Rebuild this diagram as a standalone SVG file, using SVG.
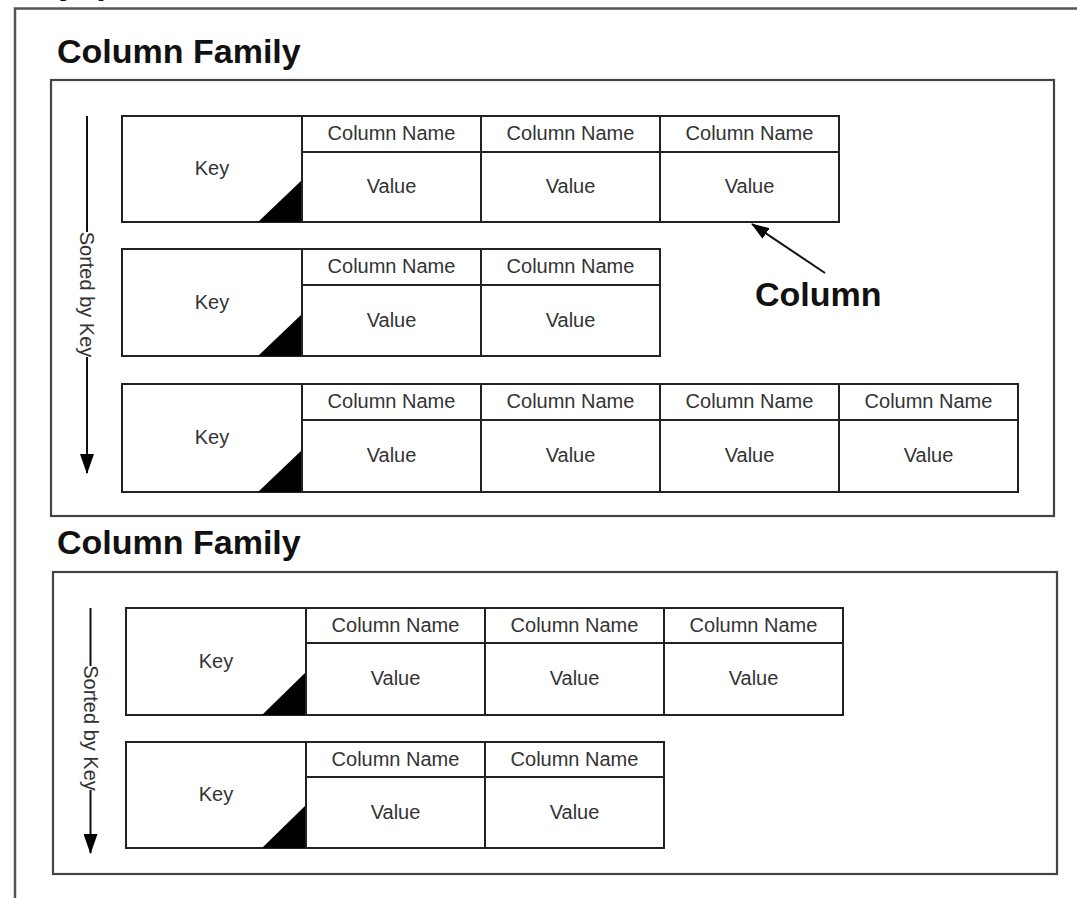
<svg xmlns="http://www.w3.org/2000/svg" width="1077" height="898" viewBox="0 0 1077 898">
  <style>
    .frame { fill: none; stroke: #555; stroke-width: 2.5; }
    .cf { fill: #fff; stroke: #444; stroke-width: 2.2; }
    .cell { fill: #fff; stroke: #222; stroke-width: 2; }
    .tri { fill: #000; stroke: none; }
    .lbl { font-family: "Liberation Sans", Arial, sans-serif; font-size: 20px; fill: #333; text-anchor: middle; }
    .head { font-family: "Liberation Sans", Arial, sans-serif; font-size: 34px; font-weight: bold; fill: #111; }
    .wire { stroke: #111; stroke-width: 2; fill: none; }
  </style>
  <defs>
    <marker id="head" viewBox="0 0 20 14" refX="19" refY="7" markerUnits="userSpaceOnUse" markerWidth="20" markerHeight="14" orient="auto">
      <path d="M0,0 L20,7 L0,14 z" fill="#000"/>
    </marker>
    <marker id="ptr" viewBox="0 0 18 13" refX="17" refY="6.5" markerUnits="userSpaceOnUse" markerWidth="18" markerHeight="13" orient="auto">
      <path d="M0,0 L18,6.5 L0,13 z" fill="#000"/>
    </marker>
  </defs>

  <rect width="1077" height="898" fill="#fff"/>

  <!-- keyspace frame (runs off the page) -->
  <g id="keyspace">
    <text class="head" x="15" y="-6" font-size="36">Keyspace</text>
    <path class="frame" d="M15,905 L15,8.5 L1085,8.5"/>
  </g>

  <!-- first column family -->
  <g id="cf1">
    <text class="head" x="57" y="63">Column Family</text>
    <rect class="cf" x="51" y="80" width="1003" height="436"/>
  </g>

  <g id="cf1-row1">
    <rect class="cell" x="122" y="116" width="180" height="106"/>
    <path class="tri" d="M258,222 L302,222 L302,180 z"/>
    <text class="lbl" x="212" y="175">Key</text>
    <rect class="cell" x="302" y="116" width="179" height="36"/>
    <rect class="cell" x="302" y="152" width="179" height="70"/>
    <rect class="cell" x="481" y="116" width="179" height="36"/>
    <rect class="cell" x="481" y="152" width="179" height="70"/>
    <rect class="cell" x="660" y="116" width="179" height="36"/>
    <rect class="cell" x="660" y="152" width="179" height="70"/>
    <text class="lbl" x="391.5" y="140">Column Name</text>
    <text class="lbl" x="570.5" y="140">Column Name</text>
    <text class="lbl" x="749.5" y="140">Column Name</text>
    <text class="lbl" x="391.5" y="193">Value</text>
    <text class="lbl" x="570.5" y="193">Value</text>
    <text class="lbl" x="749.5" y="193">Value</text>
  </g>

  <g id="cf1-row2">
    <rect class="cell" x="122" y="249" width="180" height="107"/>
    <path class="tri" d="M258,356 L302,356 L302,314 z"/>
    <text class="lbl" x="212" y="309">Key</text>
    <rect class="cell" x="302" y="249" width="179" height="36"/>
    <rect class="cell" x="302" y="285" width="179" height="71"/>
    <rect class="cell" x="481" y="249" width="179" height="36"/>
    <rect class="cell" x="481" y="285" width="179" height="71"/>
    <text class="lbl" x="391.5" y="273">Column Name</text>
    <text class="lbl" x="570.5" y="273">Column Name</text>
    <text class="lbl" x="391.5" y="327">Value</text>
    <text class="lbl" x="570.5" y="327">Value</text>
  </g>

  <g id="cf1-row3">
    <rect class="cell" x="122" y="384" width="180" height="108"/>
    <path class="tri" d="M258,492 L302,492 L302,450 z"/>
    <text class="lbl" x="212" y="444">Key</text>
    <rect class="cell" x="302" y="384" width="179" height="36"/>
    <rect class="cell" x="302" y="420" width="179" height="72"/>
    <rect class="cell" x="481" y="384" width="179" height="36"/>
    <rect class="cell" x="481" y="420" width="179" height="72"/>
    <rect class="cell" x="660" y="384" width="179" height="36"/>
    <rect class="cell" x="660" y="420" width="179" height="72"/>
    <rect class="cell" x="839" y="384" width="179" height="36"/>
    <rect class="cell" x="839" y="420" width="179" height="72"/>
    <text class="lbl" x="391.5" y="408">Column Name</text>
    <text class="lbl" x="570.5" y="408">Column Name</text>
    <text class="lbl" x="749.5" y="408">Column Name</text>
    <text class="lbl" x="928.5" y="408">Column Name</text>
    <text class="lbl" x="391.5" y="462">Value</text>
    <text class="lbl" x="570.5" y="462">Value</text>
    <text class="lbl" x="749.5" y="462">Value</text>
    <text class="lbl" x="928.5" y="462">Value</text>
  </g>

  <g id="column-label">
    <text class="head" x="755" y="306">Column</text>
  </g>

  <!-- second column family -->
  <g id="cf2">
    <text class="head" x="57" y="554">Column Family</text>
    <rect class="cf" x="53" y="572" width="1004" height="302"/>
  </g>

  <g id="cf2-row1">
    <rect class="cell" x="126" y="608" width="180" height="107"/>
    <path class="tri" d="M262,715 L306,715 L306,672 z"/>
    <text class="lbl" x="216" y="668">Key</text>
    <rect class="cell" x="306" y="608" width="179" height="35"/>
    <rect class="cell" x="306" y="643" width="179" height="72"/>
    <rect class="cell" x="485" y="608" width="179" height="35"/>
    <rect class="cell" x="485" y="643" width="179" height="72"/>
    <rect class="cell" x="664" y="608" width="179" height="35"/>
    <rect class="cell" x="664" y="643" width="179" height="72"/>
    <text class="lbl" x="395.5" y="632">Column Name</text>
    <text class="lbl" x="574.5" y="632">Column Name</text>
    <text class="lbl" x="753.5" y="632">Column Name</text>
    <text class="lbl" x="395.5" y="685">Value</text>
    <text class="lbl" x="574.5" y="685">Value</text>
    <text class="lbl" x="753.5" y="685">Value</text>
  </g>

  <g id="cf2-row2">
    <rect class="cell" x="126" y="742" width="180" height="106"/>
    <path class="tri" d="M262,848 L306,848 L306,805 z"/>
    <text class="lbl" x="216" y="801">Key</text>
    <rect class="cell" x="306" y="742" width="179" height="35"/>
    <rect class="cell" x="306" y="777" width="179" height="71"/>
    <rect class="cell" x="485" y="742" width="179" height="35"/>
    <rect class="cell" x="485" y="777" width="179" height="71"/>
    <text class="lbl" x="395.5" y="766">Column Name</text>
    <text class="lbl" x="574.5" y="766">Column Name</text>
    <text class="lbl" x="395.5" y="819">Value</text>
    <text class="lbl" x="574.5" y="819">Value</text>
  </g>

  <!-- sort-order arrows and the column pointer -->
  <g id="connectors">
    <line class="wire" x1="87" y1="116" x2="87" y2="232"/>
    <line class="wire" x1="87" y1="357" x2="87" y2="473" marker-end="url(#head)"/>
    <text class="lbl" transform="translate(80,294.5) rotate(90)" x="0" y="0">Sorted by Key</text>

    <line class="wire" x1="90.5" y1="608" x2="90.5" y2="666"/>
    <line class="wire" x1="90.5" y1="790" x2="90.5" y2="853" marker-end="url(#head)"/>
    <text class="lbl" transform="translate(83.5,728) rotate(90)" x="0" y="0">Sorted by Key</text>

    <line class="wire" x1="825" y1="273" x2="752" y2="224" stroke-width="1.6" marker-end="url(#ptr)"/>
  </g>
</svg>
